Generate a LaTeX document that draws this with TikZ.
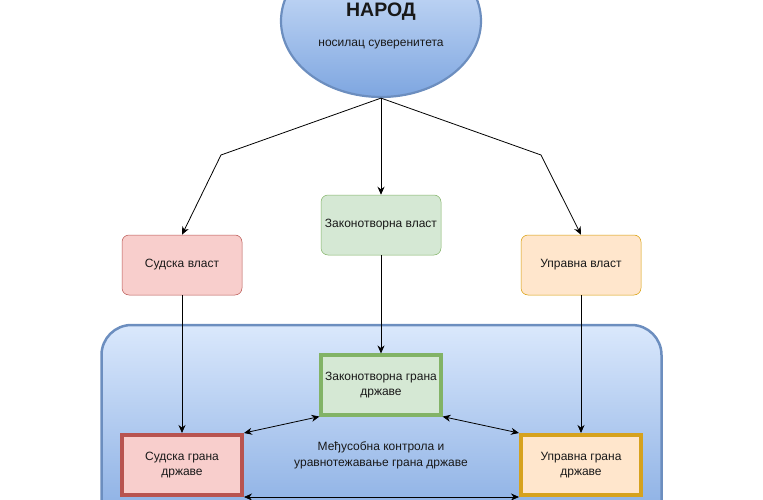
\documentclass[tikz,border=0pt]{standalone}
\usepackage{fontspec}
\setmainfont{Liberation Sans}
\usetikzlibrary{arrows.meta,shapes.geometric}

\definecolor{sudfill}{HTML}{F8CECC}
\definecolor{sudline}{HTML}{B85450}
\definecolor{zakfill}{HTML}{D5E8D4}
\definecolor{zakline}{HTML}{82B366}
\definecolor{uprfill}{HTML}{FFE6CC}
\definecolor{uprline}{HTML}{D79B00}
\definecolor{uprgold}{HTML}{D6A21E}
\definecolor{plavtop}{HTML}{DAE8FC}
\definecolor{plavbot}{HTML}{7EA6E0}
\definecolor{plavline}{HTML}{6C8EBF}

\tikzset{
	txt/.style={font=\fontsize{12}{15.5}\selectfont, align=center, text=black!90},
	vlast/.style={txt, draw, rounded corners=7pt, minimum width=120pt, minimum height=60pt, line width=0.5pt},
	grana/.style={txt, draw, minimum width=120pt, minimum height=60pt},
	arr/.style={-{Stealth[length=8pt,width=7pt]}, line width=0.8pt},
	dblarr/.style={{Stealth[length=8pt,width=7pt]}-{Stealth[length=8pt,width=7pt]}, line width=0.8pt}
}

\begin{document}
\begin{tikzpicture}[x=1pt, y=-1pt]
			%%%%% START %%%%%
			
			\useasboundingbox (0, 0) rectangle (763, 500);
			\clip (0, 0) rectangle (763, 500);
			
			% narod
			\node[ellipse, draw=plavline, line width=2.2pt, top color=plavtop, bottom color=plavbot, minimum width=200pt, minimum height=152pt] (narod) at (381, 21) {};
			\node[font=\fontsize{19.5}{22}\selectfont\bfseries, text=black!90] (narodtitle) at (381, 12) {НАРОД};
			\node[txt] (narodsub) at (381, 45) {носилац суверенитета};
			
			% drzava
			\draw[draw=plavline, line width=2.5pt, top color=plavtop, bottom color=plavbot, rounded corners=30pt] (101.5, 325) rectangle (661.5, 549);
			
			% vlasti
			\node[vlast, fill=sudfill, draw=sudline] (sudvl) at (182, 265) {Судска власт};
			\node[vlast, fill=zakfill, draw=zakline] (zakvl) at (381, 225) {Законотворна власт};
			\node[vlast, fill=uprfill, draw=uprline] (uprvl) at (581, 265) {Управна власт};
			
			% grane
			\node[grana, fill=sudfill, draw=sudline, line width=1.4mm] (sudgr) at (182, 465) {Судска грана\\државе};
			\node[grana, fill=zakfill, draw=zakline, line width=1.1mm] (zakgr) at (381, 385) {Законотворна грана\\државе};
			\node[grana, fill=uprfill, draw=uprgold, line width=1.4mm] (uprgr) at (581, 465) {Управна грана\\државе};
			
			\node[txt] (medjusobna) at (381, 455.5) {Међусобна контрола и\\уравнотежавање грана државе};
			
			% veze
			\draw[arr] (narod.south) -- (221, 155) -- (sudvl.north);
			\draw[arr] (narod.south) -- (zakvl.north);
			\draw[arr] (narod.south) -- (541, 155) -- (uprvl.north);
			
			\draw[arr] (sudvl.south) -- (sudgr.north);
			\draw[arr] (zakvl.south) -- (zakgr.north);
			\draw[arr] (uprvl.south) -- (uprgr.north);
			
			\draw[dblarr] (sudgr.north east) -- (zakgr.south west);
			\draw[dblarr] (zakgr.south east) -- (uprgr.north west);
			\draw[dblarr] (sudgr.south east) -- (uprgr.south west);
			
			%%%%% END %%%%%
\end{tikzpicture}
\end{document}
